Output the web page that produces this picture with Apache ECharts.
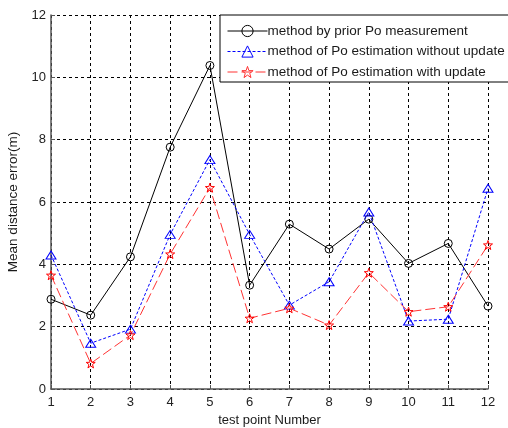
<!DOCTYPE html>
<html>
<head>
<meta charset="utf-8">
<script src="https://cdn.jsdelivr.net/npm/echarts@6/dist/echarts.min.js"></script>
<style>
  html, body { margin: 0; padding: 0; background: #fff; }
  .chart { width: 508px; height: 428px; }
</style>
</head>
<body>
<div class="chart"></div>
<script>
var testPoints = ['1', '2', '3', '4', '5', '6', '7', '8', '9', '10', '11', '12'];
var priorPo = [2.88, 2.37, 4.24, 7.76, 10.38, 3.33, 5.29, 4.49, 5.45, 4.03, 4.67, 2.66];
var noUpdate = [4.3, 1.47, 1.92, 4.96, 7.36, 4.96, 2.69, 3.44, 5.68, 2.18, 2.24, 6.44];
var withUpdate = [3.65, 0.82, 1.73, 4.33, 6.46, 2.27, 2.59, 2.05, 3.73, 2.48, 2.64, 4.62];
var seriesNames = ['method by prior Po measurement', 'method of Po estimation without update', 'method of Po estimation with update'];

(function () {
    var myChart = echarts.init(document.querySelector(".chart"));
    var star = 'path://M0,-10 L2.35,-3.24 L9.51,-3.09 L3.8,1.24 L5.88,8.09 L0,4 L-5.88,8.09 L-3.8,1.24 L-9.51,-3.09 L-2.35,-3.24 Z';
    var font = 'Liberation Sans';
    var colors = ['#000', '#0000ff', '#ff3333'];
    var dashes = ['solid', [3, 2], [10, 4]];

    var option = {
        animation: false,
        backgroundColor: '#fff',
        textStyle: { fontFamily: font },
        legend: {
            orient: 'vertical',
            left: 220,
            top: 15,
            padding: [9, 6, 3, 7],
            itemWidth: 40,
            itemHeight: 14,
            itemGap: 6.5,
            borderColor: '#000',
            borderWidth: 1,
            borderRadius: 0,
            backgroundColor: '#fff',
            textStyle: { fontSize: 13.5, color: '#1a1a1a', fontFamily: font, padding: [0, 0, 0, -5], width: 232, overflow: 'none' },
            data: seriesNames.map(function (n, i) {
                return {
                    name: n,
                    lineStyle: { color: colors[i], width: 1, type: dashes[i] },
                    itemStyle: { color: 'rgba(0,0,0,0)', borderColor: colors[i], borderWidth: 1 }
                };
            })
        },
        grid: {
            left: 51,
            right: 20,
            top: 15,
            bottom: 39,
            outerBoundsMode: 'none'
        },
        xAxis: {
            type: 'category',
            boundaryGap: false,
            data: testPoints,
            name: 'test point Number',
            nameLocation: 'middle',
            nameGap: 25,
            nameTextStyle: { fontSize: 13, color: '#1a1a1a' },
            axisLine: { lineStyle: { color: '#555', width: 1.5 } },
            axisTick: { inside: true, length: 4, lineStyle: { color: '#555' } },
            axisLabel: { fontSize: 13, color: '#222', margin: 7 },
            splitLine: { show: true, lineStyle: { color: '#000', type: [3, 3] } }
        },
        yAxis: {
            type: 'value',
            min: 0,
            max: 12,
            interval: 2,
            name: 'Mean distance error(m)',
            nameLocation: 'middle',
            nameGap: 22,
            nameTextStyle: { fontSize: 13.5, color: '#1a1a1a' },
            axisLine: { show: true, lineStyle: { color: '#555', width: 1.5 } },
            axisTick: { show: true, inside: true, length: 4, lineStyle: { color: '#555' } },
            axisLabel: { fontSize: 13, color: '#222', margin: 5 },
            splitLine: { show: true, lineStyle: { color: '#000', type: [3, 3] } }
        },
        series: [
            {
                name: seriesNames[0],
                type: 'line',
                data: priorPo,
                symbol: 'circle',
                symbolSize: 8,
                lineStyle: { color: colors[0], width: 1, type: dashes[0] },
                itemStyle: { color: 'rgba(0,0,0,0)', borderColor: colors[0], borderWidth: 1 },
                z: 3
            },
            {
                name: seriesNames[1],
                type: 'line',
                data: noUpdate,
                symbol: 'triangle',
                symbolSize: [10, 8],
                lineStyle: { color: colors[1], width: 1, type: dashes[1] },
                itemStyle: { color: 'rgba(0,0,0,0)', borderColor: colors[1], borderWidth: 1 },
                z: 4
            },
            {
                name: seriesNames[2],
                type: 'line',
                data: withUpdate,
                symbol: star,
                symbolSize: 9,
                lineStyle: { color: colors[2], width: 1, type: dashes[2] },
                itemStyle: { color: 'rgba(0,0,0,0)', borderColor: '#ff0000', borderWidth: 1 },
                z: 5
            }
        ]
    };

    myChart.setOption(option);
    window.addEventListener("resize", function () {
        myChart.resize();
    });
})();
</script>
</body>
</html>
